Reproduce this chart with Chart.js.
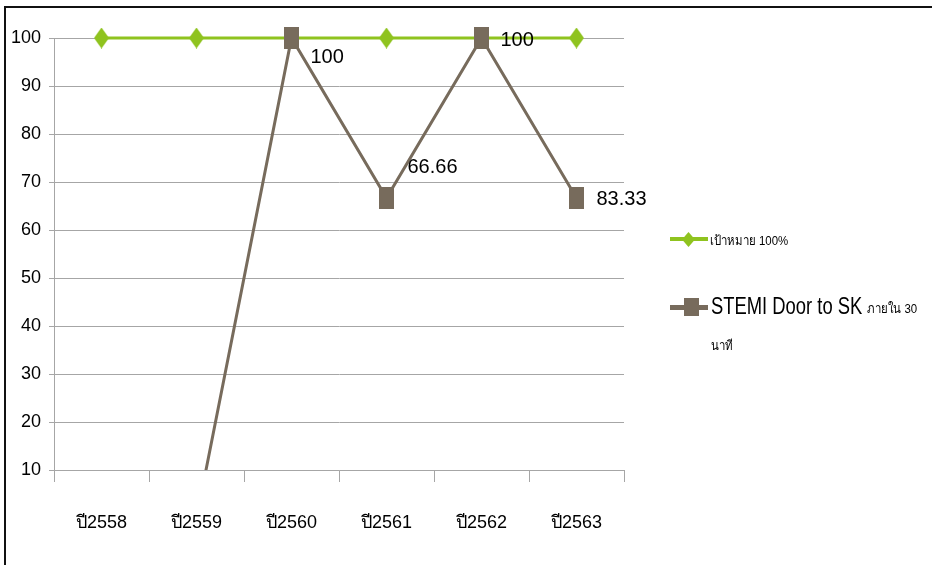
<!DOCTYPE html>
<html>
<head>
<meta charset="utf-8">
<script src="https://cdn.jsdelivr.net/npm/chart.js@4"></script>
<style>
  body { margin: 0; background: #fff; }
  #wrap { position: relative; width: 932px; height: 565px; overflow: hidden; }
  #frame { position: absolute; left: 4px; top: 6px; right: 0; bottom: 0; border-top: 2px solid #111; border-left: 2px solid #111; }
  canvas { position: absolute; left: 0; top: 0; }
  .leg { position: absolute; font-family: "Liberation Sans", Arial, sans-serif; color: #000; white-space: nowrap; transform-origin: left center; line-height: 1; }
  .mk { position: absolute; width: 38px; height: 4px; }
  .small { font-size: 13px; transform: scaleX(0.88); }
  .big { font-size: 23px; transform: scaleX(0.8); }
</style>
</head>
<body>
<div id="wrap">
  <div id="frame"></div>
  <canvas id="chart" width="932" height="565"></canvas>

  <div class="mk" style="left:670px; top:237px; background:#8fc31f;"></div>
  <div class="mk" style="left:682px; top:232px; width:13px; height:15px; background:#8fc31f; clip-path:polygon(50% 0,100% 50%,50% 100%,0 50%);"></div>
  <div class="leg small" style="left:710px; top:234px;">เป้าหมาย 100%</div>

  <div class="mk" style="left:670px; top:305px; height:5px; background:#776b5c;"></div>
  <div class="mk" style="left:684px; top:298px; width:15px; height:18px; background:#776b5c;"></div>
  <div class="leg big" style="left:711px; top:295px;">STEMI Door to SK</div>
  <div class="leg small" style="left:867px; top:302px;">ภายใน 30</div>
  <div class="leg small" style="left:711px; top:339px;">นาที</div>
</div>

<script>
// ข้อมูล
const years = ['ปี2558', 'ปี2559', 'ปี2560', 'ปี2561', 'ปี2562', 'ปี2563'];
const target = [100, 100, 100, 100, 100, 100];
const stemi = [null, 0, 100, 66.66, 100, 66.66];
const stemiLabels = ['', '', '100', '66.66', '100', '83.33'];
const yTicks = [10, 20, 30, 40, 50, 60, 70, 80, 90, 100];

const GREEN = '#8fc31f';
const BROWN = '#776b5c';
const FONT = '"Liberation Sans", Arial, sans-serif';

// markers (taller than wide, like the original)
function makeMarker(w, h, color, diamond) {
    const c = document.createElement('canvas');
    c.width = w; c.height = h;
    const ctx = c.getContext('2d');
    ctx.fillStyle = color;
    if (diamond) {
        ctx.beginPath();
        ctx.moveTo(w / 2, 0); ctx.lineTo(w, h / 2); ctx.lineTo(w / 2, h); ctx.lineTo(0, h / 2);
        ctx.closePath(); ctx.fill();
    } else {
        ctx.fillRect(0, 0, w, h);
    }
    return c;
}
const diamond = makeMarker(15, 21, GREEN, true);
const square = makeMarker(15, 22, BROWN, false);

// data labels next to the brown points
const labelOffsets = [[0, 0], [0, 0], [19, 19], [21, -31], [19, 2], [20, 1]];
const pointLabels = {
    id: 'pointLabels',
    afterDatasetsDraw(chart) {
        const meta = chart.getDatasetMeta(1);
        const ctx = chart.ctx;
        ctx.save();
        ctx.font = '20px ' + FONT;
        ctx.fillStyle = '#000';
        ctx.textBaseline = 'middle';
        ctx.textAlign = 'left';
        meta.data.forEach((pt, i) => {
            if (!stemiLabels[i]) return;
            ctx.fillText(stemiLabels[i], pt.x + labelOffsets[i][0], pt.y + labelOffsets[i][1]);
        });
        ctx.restore();
    }
};

new Chart(document.getElementById('chart'), {
    type: 'line',
    data: {
        labels: years,
        datasets: [
            { label: 'เป้าหมาย 100%', data: target, borderColor: GREEN, backgroundColor: GREEN, borderWidth: 3,
              pointStyle: diamond, pointRadius: 8, order: 2, clip: false },
            { label: 'STEMI Door to SK ภายใน 30 นาที', data: stemi, borderColor: BROWN, backgroundColor: BROWN, borderWidth: 3,
              pointStyle: square, pointRadius: 8, order: 1, clip: { left: false, top: false, right: false, bottom: 0 } }
        ]
    },
    options: {
        responsive: false,
        animation: false,
        layout: { padding: { left: 0, right: 308, top: 38, bottom: 0 } },
        plugins: { legend: { display: false }, tooltip: { enabled: false } },
        scales: {
            x: {
                offset: true,
                grid: { offset: true, drawOnChartArea: false, color: '#a6a6a6', tickLength: 12 },
                border: { color: '#a6a6a6' },
                ticks: { font: { family: FONT, size: 18 }, color: '#000', padding: 30, maxRotation: 0 },
                afterFit: s => { s.height = 95; }
            },
            y: {
                min: 10, max: 100,
                afterBuildTicks: s => { s.ticks = yTicks.map(v => ({ value: v })); },
                grid: { color: '#a6a6a6', tickLength: 5 },
                border: { color: '#a6a6a6' },
                ticks: { font: { family: FONT, size: 18 }, color: '#000', padding: 8 },
                afterFit: s => { s.width = 54; }
            }
        }
    },
    plugins: [pointLabels]
});
</script>
</body>
</html>
